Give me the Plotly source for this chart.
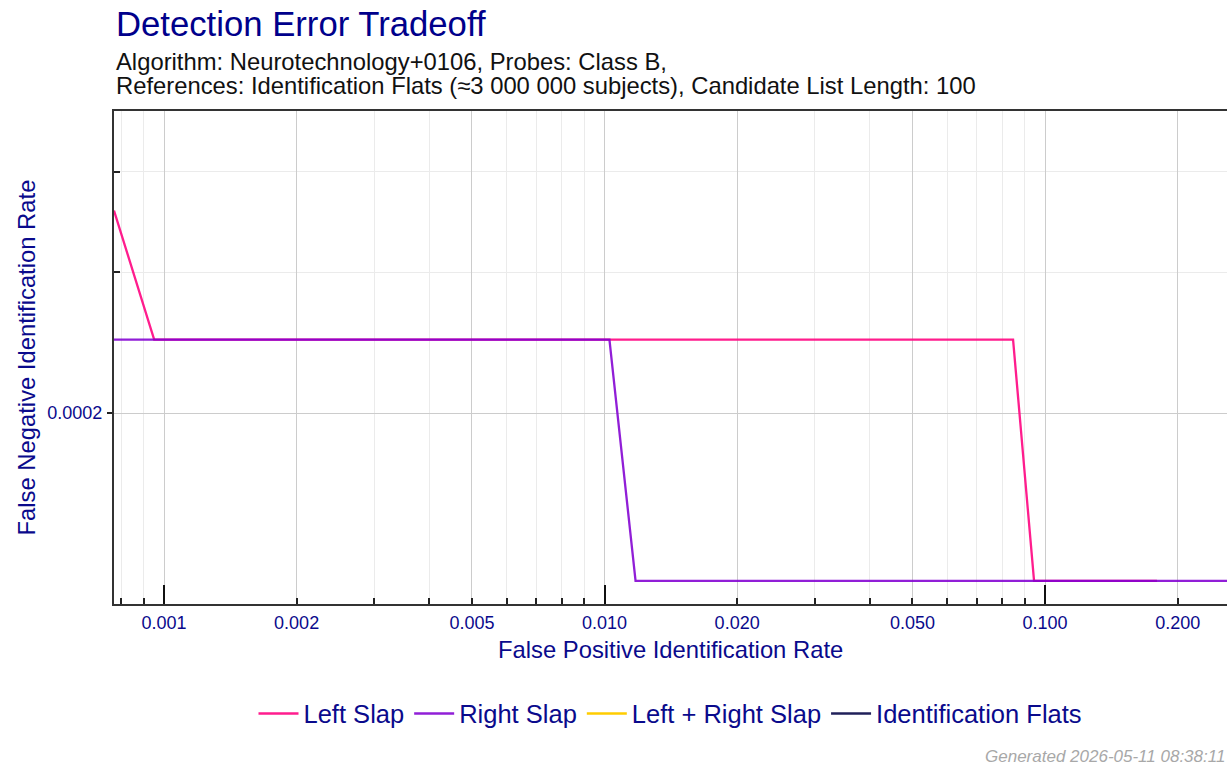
import plotly.graph_objects as go

# DET curve points
left_fpir = [0.00077, 0.00095, 0.0846, 0.0944, 0.1795]
left_fnir = [0.000358, 0.000247, 0.000247, 0.0001234, 0.0001234]
right_fpir = [0.00077, 0.01026, 0.01176, 0.27]
right_fnir = [0.000247, 0.000247, 0.0001234, 0.0001234]

x_tickvals = [0.001, 0.002, 0.005, 0.01, 0.02, 0.05, 0.1, 0.2]
x_ticktext = ["0.001", "0.002", "0.005", "0.010", "0.020", "0.050", "0.100", "0.200"]
x_minor = [0.0008, 0.0009, 0.003, 0.004, 0.006, 0.007, 0.008, 0.009,
           0.03, 0.04, 0.06, 0.07, 0.08, 0.09]
x_decades = [0.001, 0.01, 0.1]
y_tickvals = [0.0002]
y_ticktext = ["0.0002"]
y_minor = [0.0003, 0.0004]

x_range = [-3.1135, -0.587]
y_range = [-3.9375, -3.3218]

FONT = "Liberation Sans, Arial, Helvetica, sans-serif"
BLUE = "#0a0a8c"

fig = go.Figure()
fig.add_trace(go.Scatter(x=left_fpir, y=left_fnir, mode="lines", name="Left Slap",
                         line=dict(color="#ff0a84", width=2.3), opacity=0.92))
fig.add_trace(go.Scatter(x=right_fpir, y=right_fnir, mode="lines", name="Right Slap",
                         line=dict(color="#8200d2", width=2.3), opacity=0.88))
fig.add_trace(go.Scatter(x=[None], y=[None], mode="lines", name="Left + Right Slap",
                         line=dict(color="#ffcc00", width=2.3)))
fig.add_trace(go.Scatter(x=[None], y=[None], mode="lines", name="Identification Flats",
                         line=dict(color="#20205a", width=2.3)))
# invisible trace so the decade-tick overlay axis is drawn
fig.add_trace(go.Scatter(x=[None], y=[None], xaxis="x2", showlegend=False, hoverinfo="skip"))

fig.update_layout(
    width=1227, height=767,
    margin=dict(l=114, r=0, t=111, b=163),
    paper_bgcolor="white", plot_bgcolor="white",
    font=dict(family=FONT, color=BLUE),
    showlegend=True,
    legend=dict(orientation="h", x=0.5, xanchor="center", y=-0.223, yanchor="middle",
                font=dict(size=25.5, color=BLUE), itemwidth=40,
                bgcolor="rgba(0,0,0,0)"),
    xaxis=dict(type="log", range=x_range, tickmode="array", tickvals=x_tickvals,
               ticktext=x_ticktext, ticks="inside", ticklen=6, tickwidth=2, tickcolor="#222",
               tickfont=dict(size=18, color=BLUE), ticklabelstandoff=1,
               showgrid=True, gridcolor="#cccccc", gridwidth=1.4,
               minor=dict(tickvals=x_minor, ticks="inside", ticklen=6, tickwidth=2,
                          tickcolor="#222", showgrid=True, gridcolor="#ebebeb", gridwidth=1),
               showline=True, linecolor="#333", linewidth=2, mirror=True, zeroline=False),
    xaxis2=dict(type="log", range=x_range, overlaying="x", anchor="y", side="bottom",
                tickmode="array", tickvals=x_decades, ticks="inside", ticklen=19,
                tickwidth=2, tickcolor="#111", showticklabels=False, showgrid=False,
                showline=False, zeroline=False),
    yaxis=dict(type="log", range=y_range, tickmode="array", tickvals=y_tickvals,
               ticktext=y_ticktext, ticks="outside", ticklen=5, tickwidth=2, tickcolor="#222",
               tickfont=dict(size=18, color=BLUE), ticklabelstandoff=1,
               showgrid=True, gridcolor="#cccccc", gridwidth=1.4,
               minor=dict(tickvals=y_minor, ticks="inside", ticklen=6, tickwidth=2,
                          tickcolor="#222", showgrid=True, gridcolor="#ebebeb", gridwidth=1),
               showline=True, linecolor="#333", linewidth=2, mirror=False, zeroline=False),
)

annotations = [
    dict(text="Detection Error Tradeoff", x=0, y=1.1765, xanchor="left", yanchor="middle",
         font=dict(size=34.7, color="#00008b")),
    dict(text="Algorithm: Neurotechnology+0106, Probes: Class B,", x=0, y=1.1013,
         xanchor="left", yanchor="middle", font=dict(size=23.8, color="#111")),
    dict(text="References: Identification Flats (≈3 000 000 subjects), Candidate List Length: 100",
         x=0, y=1.0517, xanchor="left", yanchor="middle", font=dict(size=23.8, color="#111")),
    dict(text="False Positive Identification Rate", x=0.5, y=-0.0913, xanchor="center",
         yanchor="middle", font=dict(size=23.8, color=BLUE)),
    dict(text="False Negative Identification Rate", x=-0.0782, y=0.5, xanchor="center",
         yanchor="middle", textangle=-90, font=dict(size=23.8, color=BLUE)),
    dict(text="<i>Generated 2026-05-11 08:38:11</i>", x=1, y=-0.31, xanchor="right",
         yanchor="middle", font=dict(size=17, color="#a8a8a8")),
]
for a in annotations:
    fig.add_annotation(xref="paper", yref="paper", showarrow=False, **a)

# drop the default page margin so the 1227x767 figure fills the window exactly
fig.write_html("out.html", config={"displayModeBar": False},
               post_script="document.body.style.margin='0';document.body.style.overflow='hidden';")
